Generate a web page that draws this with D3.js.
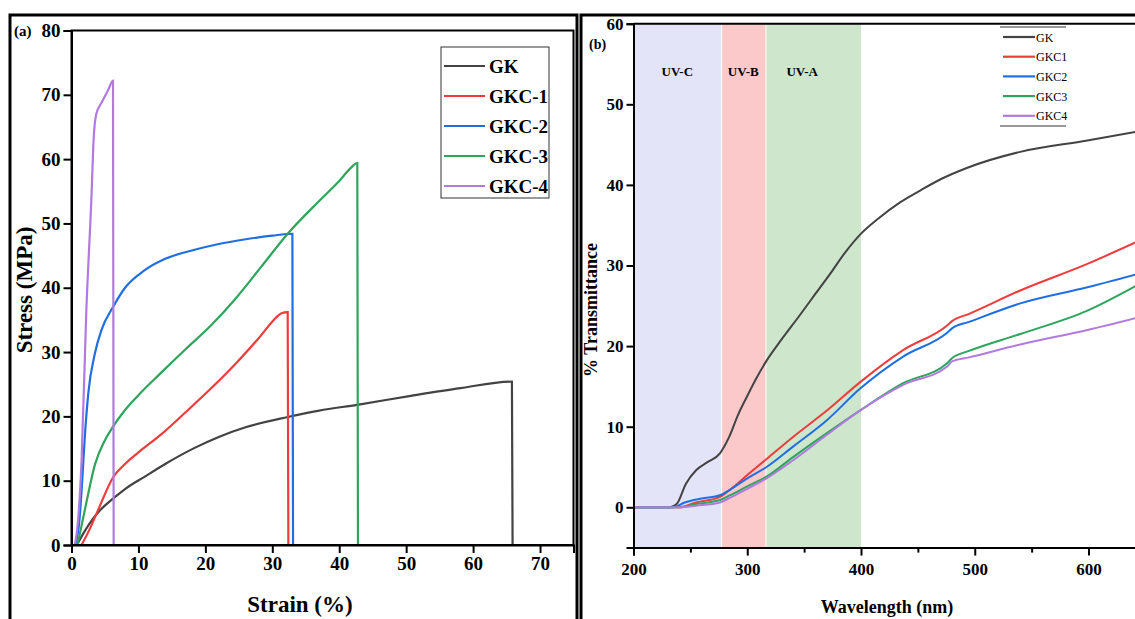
<!DOCTYPE html>
<html>
<head>
<meta charset="UTF-8">
<title>Stress-strain and UV transmittance</title>
<script src="https://d3js.org/d3.v7.min.js"></script>
<style>
  body { margin: 0; background: #fff; }
  svg text { font-family: "Liberation Serif", "Times New Roman", serif; }
</style>
</head>
<body>
<script>
// ---- panel (a): stress-strain data [strain %, stress MPa]
var strainNames = ["GK", "GKC-1", "GKC-2", "GKC-3", "GKC-4"];
var strainGK = [[0.8,0],[2,2.2],[3,3.8],[4,5.1],[6.2,7.2],[8,8.7],[10.9,10.6],[14,12.6],[18.4,15.1],[22,16.8],[26,18.3],[32.3,19.9],[37,20.9],[42.7,21.8],[50.7,23.2],[58.1,24.4],[65.8,25.4],[65.9,0]];
var strainGKC1 = [[1.5,0],[2.5,2],[4,5.5],[6.2,10.5],[8,12.6],[10,14.4],[13.4,17.2],[17,20.6],[20.9,24.4],[24.8,28.5],[28,32.2],[30.8,35.6],[31.3,36],[32.3,36.2],[32.4,0]];
var strainGKC2 = [[0.6,0],[1.2,4],[1.6,10],[2,17],[2.5,23.5],[3.5,29.8],[4.5,33.5],[6.2,37],[8,40],[10.9,42.7],[14,44.5],[18.4,45.9],[22,46.8],[25.8,47.5],[30,48.1],[33,48.4],[33.1,0]];
var strainGKC3 = [[0.9,0],[1.5,3],[2.2,6.5],[3.5,12.5],[5,16.3],[6.2,18.4],[8,21],[10,23.3],[13.4,26.8],[17,30.4],[20.9,34.2],[24.5,38.3],[28.3,43.2],[32.3,48.4],[37.3,53.8],[40,56.6],[41.7,58.6],[42.7,59.4],[42.8,0]];
var strainGKC4 = [[0.5,0],[1,4],[1.5,13],[2.2,36],[3,54.6],[3.3,63],[3.7,67],[4.5,68.8],[5.5,70.8],[6.2,72.2],[6.3,0]];
var strainTicksX = [0,10,20,30,40,50,60,70];
var strainTicksY = [0,10,20,30,40,50,60,70,80];

// ---- panel (b): transmittance data [wavelength nm, %T]
var uvNames = ["GK", "GKC1", "GKC2", "GKC3", "GKC4"];
var uvGK = [[200,0],[232,0],[238,0.4],[246,2.9],[255,4.6],[265,5.6],[276,6.7],[284,8.7],[292,11.5],[300,13.8],[308,16],[317,18.2],[330,20.8],[346,23.8],[360,26.5],[373,29],[386,31.6],[399,33.8],[415,35.8],[434,37.8],[452,39.3],[470,40.7],[493,42.1],[540,44.1],[599,45.5],[642,46.6]];
var uvGKC1 = [[200,0],[240,0],[255,0.6],[276,1.3],[285,2.2],[300,4],[317,6],[340,8.7],[370,12],[399,15.5],[437,19.5],[476,22.6],[480,23.1],[495,24],[540,26.9],[599,30.2],[642,32.9]];
var uvGKC2 = [[200,0],[235,0],[245,0.6],[260,1.1],[276,1.5],[285,2.2],[300,3.6],[317,5],[340,7.5],[370,10.8],[399,14.7],[437,18.7],[476,21.7],[480,22.2],[495,23],[540,25.3],[599,27.3],[642,28.9]];
var uvGKC3 = [[200,0],[240,0],[255,0.4],[276,0.9],[285,1.5],[300,2.6],[317,3.8],[340,6.2],[370,9.2],[399,12],[437,15.4],[476,17.9],[480,18.5],[495,19.4],[540,21.5],[599,24.4],[642,27.5]];
var uvGKC4 = [[200,0],[240,0],[255,0.2],[276,0.6],[285,1.2],[300,2.3],[317,3.6],[340,5.8],[370,9],[399,12],[437,15.2],[476,17.5],[480,18.1],[495,18.6],[540,20.2],[599,22],[642,23.5]];
var uvBands = [["UV-C",200,277],["UV-B",277,316],["UV-A",316,400]];
var uvTicksX = [200,300,400,500,600];
var uvMinorX = [250,350,450,550];
var uvTicksY = [0,10,20,30,40,50,60];

var colors = ["#434343", "#ef3b3b", "#1f6fe3", "#2ea45c", "#b27ae0"];
var bandColors = ["#e4e4f9", "#fbc9c9", "#cde6cc"];

var svg = d3.select("body").append("svg")
  .attr("width", 1135).attr("height", 619);
svg.append("rect").attr("width", 1135).attr("height", 619).attr("fill", "#fff");

// ================= panel (a)
var xA = d3.scaleLinear().domain([0, 75]).range([71.5, 573.5]);
var yA = d3.scaleLinear().domain([0, 80]).range([545, 30.5]);
var gA = svg.append("g");

var lineA = d3.line().x(function(d){ return xA(d[0]); }).y(function(d){ return yA(d[1]); })
  .curve(d3.curveMonotoneX);
[strainGK, strainGKC1, strainGKC2, strainGKC3, strainGKC4].forEach(function(s, i){
  gA.append("path").attr("d", lineA(s)).attr("fill", "none")
    .attr("stroke", colors[i]).attr("stroke-width", 2.2);
});

// plot box
gA.append("rect").attr("x", xA(0)).attr("y", yA(80))
  .attr("width", xA(75) - xA(0)).attr("height", yA(0) - yA(80))
  .attr("fill", "none").attr("stroke", "#000").attr("stroke-width", 2);

var axA = gA.append("g").attr("transform", "translate(0," + yA(0) + ")")
  .call(d3.axisBottom(xA).tickValues(strainTicksX).tickSize(8).tickPadding(4).tickFormat(d3.format("d")));
var ayA = gA.append("g").attr("transform", "translate(" + xA(0) + ",0)")
  .call(d3.axisLeft(yA).tickValues(strainTicksY).tickSize(8).tickPadding(3).tickFormat(d3.format("d")));
[axA, ayA].forEach(function(a){
  a.select(".domain").attr("stroke-width", 2);
  a.selectAll(".tick line").attr("stroke-width", 2);
  a.selectAll("text").attr("font-size", 19).attr("font-weight", "bold").attr("fill", "#000")
    .attr("font-family", "Liberation Serif");
});

gA.append("text").attr("x", 300).attr("y", 612).attr("text-anchor", "middle")
  .attr("font-size", 23).attr("font-weight", "bold").text("Strain (%)");
gA.append("text").attr("transform", "translate(32,290) rotate(-90)").attr("text-anchor", "middle")
  .attr("font-size", 23).attr("font-weight", "bold").text("Stress (MPa)");
gA.append("text").attr("x", 14).attr("y", 36).attr("font-size", 15).attr("font-weight", "bold").text("(a)");

// legend (a)
var legA = gA.append("g");
legA.append("rect").attr("x", 441).attr("y", 47).attr("width", 108).attr("height", 151)
  .attr("fill", "#fff").attr("stroke", "#333").attr("stroke-width", 1);
strainNames.forEach(function(n, i){
  var yy = 66 + i * 30;
  legA.append("line").attr("x1", 444).attr("x2", 485).attr("y1", yy).attr("y2", yy)
    .attr("stroke", colors[i]).attr("stroke-width", 2.2);
  legA.append("text").attr("x", 489).attr("y", yy + 6.5).attr("font-size", 19)
    .attr("font-weight", "bold").text(n);
});

// frame (a)
svg.append("path").attr("d", "M10,640 V15 H577 V640").attr("fill", "none")
  .attr("stroke", "#000").attr("stroke-width", 3);

// ================= panel (b)
var xB = d3.scaleLinear().domain([200, 660]).range([633.5, 633.5 + 460 * 1.1375]);
var yB = d3.scaleLinear().domain([-5, 60]).range([547.6, 23.7]);
var gB = svg.append("g");

uvBands.forEach(function(b, i){
  gB.append("rect").attr("x", xB(b[1]) + (i ? 1 : 0)).attr("y", yB(60))
    .attr("width", xB(b[2]) - xB(b[1]) - (i ? 1 : 0)).attr("height", yB(-5) - yB(60))
    .attr("fill", bandColors[i]);
  gB.append("text").attr("x", (xB(b[1]) + xB(b[2])) / 2 + (i == 2 ? -11 : 0)).attr("y", 76)
    .attr("text-anchor", "middle").attr("font-size", 13).attr("font-weight", "bold").text(b[0]);
});

var lineB = d3.line().x(function(d){ return xB(d[0]); }).y(function(d){ return yB(d[1]); })
  .curve(d3.curveMonotoneX);
[uvGK, uvGKC1, uvGKC2, uvGKC3, uvGKC4].forEach(function(s, i){
  gB.append("path").attr("d", lineB(s)).attr("fill", "none")
    .attr("stroke", colors[i]).attr("stroke-width", 2);
});

gB.append("line").attr("x1", xB(200)).attr("x2", 1135).attr("y1", yB(60)).attr("y2", yB(60))
  .attr("stroke", "#000").attr("stroke-width", 2);

var axB = gB.append("g").attr("transform", "translate(0," + yB(-5) + ")")
  .call(d3.axisBottom(xB).tickValues(uvTicksX).tickSize(8).tickPadding(7).tickFormat(d3.format("d")));
gB.append("g").attr("transform", "translate(0," + yB(-5) + ")")
  .call(d3.axisBottom(xB).tickValues(uvMinorX).tickSize(5).tickFormat(""))
  .call(function(g){ g.select(".domain").remove(); g.selectAll("line").attr("stroke-width", 2); });
var ayB = gB.append("g").attr("transform", "translate(" + xB(200) + ",0)")
  .call(d3.axisLeft(yB).tickValues(uvTicksY).tickSize(7).tickPadding(3).tickFormat(d3.format("d")));
[axB, ayB].forEach(function(a){
  a.select(".domain").attr("stroke-width", 2);
  a.selectAll(".tick line").attr("stroke-width", 2);
  a.selectAll("text").attr("font-size", 17).attr("font-weight", "bold").attr("fill", "#000")
    .attr("font-family", "Liberation Serif");
});

gB.append("text").attr("x", 887).attr("y", 613).attr("text-anchor", "middle")
  .attr("font-size", 18).attr("font-weight", "bold").text("Wavelength (nm)");
gB.append("text").attr("transform", "translate(597,310) rotate(-90)").attr("text-anchor", "middle")
  .attr("font-size", 18).attr("font-weight", "bold").text("% Transmittance");
gB.append("text").attr("x", 589).attr("y", 49).attr("font-size", 14).attr("font-weight", "bold").text("(b)");

// legend (b)
var legB = gB.append("g");
legB.append("line").attr("x1", 1000).attr("x2", 1066).attr("y1", 27).attr("y2", 27).attr("stroke", "#333");
legB.append("line").attr("x1", 1000).attr("x2", 1066).attr("y1", 126).attr("y2", 126).attr("stroke", "#333");
uvNames.forEach(function(n, i){
  var yy = 37 + i * 19.7;
  legB.append("line").attr("x1", 1003).attr("x2", 1035).attr("y1", yy).attr("y2", yy)
    .attr("stroke", colors[i]).attr("stroke-width", 2.2);
  legB.append("text").attr("x", 1036).attr("y", yy + 4.5).attr("font-size", 12).text(n);
});

// frame (b)
svg.append("path").attr("d", "M581,640 V15 H1140").attr("fill", "none")
  .attr("stroke", "#000").attr("stroke-width", 3);
</script>
</body>
</html>
